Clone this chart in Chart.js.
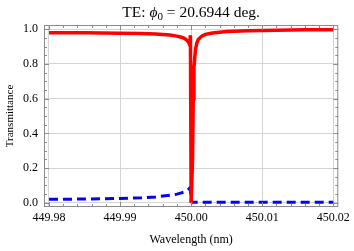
<!DOCTYPE html>
<html>
<head>
<meta charset="utf-8">
<script src="https://cdn.jsdelivr.net/npm/chart.js@4.4.0/dist/chart.umd.min.js"></script>
<style>
  html, body { margin: 0; padding: 0; background: #fff; }
  #wrap { width: 354px; height: 251px; }
</style>
</head>
<body>
<div id="wrap"><canvas id="chart" width="354" height="251"></canvas></div>
<script>
// data
const wavelength = [
    449.98, 449.985, 449.99, 449.993, 449.995, 449.997, 449.998, 449.9985,
    449.999, 449.9993, 449.9995, 449.9997, 449.9998, 449.9999, 450.0,
    450.0001, 450.0002, 450.0003, 450.0004, 450.0006, 450.0008, 450.001,
    450.0015, 450.002, 450.003, 450.005, 450.008, 450.012, 450.016, 450.02
];
const transTE = [
    0.980, 0.979, 0.977, 0.975, 0.972, 0.966, 0.960, 0.955,
    0.948, 0.940, 0.932, 0.920, 0.910, 0.965, 0.0,
    0.0, 0.25, 0.60, 0.78, 0.88, 0.92, 0.94,
    0.96, 0.97, 0.978, 0.986, 0.991, 0.994, 0.996, 0.997
];
const reflTE = [
    0.020, 0.022, 0.025, 0.029, 0.034, 0.043, 0.050, 0.056,
    0.062, 0.068, 0.073, 0.080, 0.085, 0.070, 0.010,
    0.003, 0.003, 0.003, 0.003, 0.003, 0.003, 0.003,
    0.003, 0.003, 0.003, 0.003, 0.003, 0.003, 0.003, 0.003
];
const xTicks = [449.98, 449.99, 450.00, 450.01, 450.02];
const yTicks = [0.0, 0.2, 0.4, 0.6, 0.8, 1.0];

const serif = "'Liberation Serif', 'Times New Roman', serif";

// frame with inward ticks, title
const framePlugin = {
    id: 'frame',
    afterDraw(chart) {
        const ctx = chart.ctx;
        const a = chart.chartArea;
        const xs = chart.scales.x, ys = chart.scales.y;
        ctx.save();
        ctx.strokeStyle = '#8a8a8a';
        ctx.lineWidth = 1;
        ctx.strokeRect(a.left + 0.5, a.top + 0.5, a.right - a.left - 1, a.bottom - a.top - 1);
        ctx.beginPath();
        for (let i = 0; i <= 20; i++) {
            const v = 449.98 + i * 0.002;
            const px = Math.round(xs.getPixelForValue(v)) + 0.5;
            const len = i % 5 === 0 ? 5 : 3;
            ctx.moveTo(px, a.bottom); ctx.lineTo(px, a.bottom - len);
            ctx.moveTo(px, a.top); ctx.lineTo(px, a.top + len);
        }
        for (let i = 0; i <= 20; i++) {
            const v = i * 0.05;
            const py = Math.round(ys.getPixelForValue(v)) + 0.5;
            const len = i % 4 === 0 ? 5 : 3;
            ctx.moveTo(a.left, py); ctx.lineTo(a.left + len, py);
            ctx.moveTo(a.right, py); ctx.lineTo(a.right - len, py);
        }
        ctx.stroke();

        // title
        const parts = [
            ['TE: ', 'normal 15.5px ' + serif, 0],
            ['\u03D5', 'italic 15.5px ' + serif, 0],
            ['0', 'normal 11px ' + serif, 3],
            [' = 20.6944 deg.', 'normal 15.5px ' + serif, 0]
        ];
        let total = 0;
        parts.forEach(p => { ctx.font = p[1]; total += ctx.measureText(p[0]).width; });
        let x = (a.left + a.right) / 2 - total / 2;
        ctx.fillStyle = '#000';
        ctx.textBaseline = 'alphabetic';
        parts.forEach(p => {
            ctx.font = p[1];
            ctx.fillText(p[0], x, 17 + p[2]);
            x += ctx.measureText(p[0]).width;
        });
        ctx.restore();
    }
};

new Chart(document.getElementById('chart'), {
    type: 'line',
    data: {
        labels: wavelength,
        datasets: [{
            label: 'T',
            data: wavelength.map((w, i) => ({ x: w, y: transTE[i] })),
            borderColor: '#ff0000',
            borderWidth: 3.5,
            pointRadius: 0,
            tension: 0,
            fill: false
        }, {
            label: 'R',
            data: wavelength.map((w, i) => ({ x: w, y: reflTE[i] })),
            borderColor: '#0000ff',
            borderWidth: 3,
            borderDash: [9, 5],
            pointRadius: 0,
            tension: 0,
            fill: false
        }]
    },
    options: {
        responsive: false,
        animation: false,
        layout: { padding: { top: 25, right: 12, left: 0, bottom: 0 } },
        plugins: { legend: { display: false }, tooltip: { enabled: false } },
        scales: {
            x: {
                type: 'linear',
                min: 449.9793,
                max: 450.0207,
                afterFit: s => { s.height = 44; },
                afterBuildTicks: s => { s.ticks = xTicks.map(v => ({ value: v })); },
                ticks: {
                    color: '#000',
                    padding: 4,
                    maxRotation: 0,
                    font: { family: serif, size: 12 },
                    callback: v => v.toFixed(2)
                },
                grid: { color: '#d4d4d4', drawTicks: false },
                border: { display: false },
                title: {
                    display: true,
                    text: 'Wavelength (nm)',
                    color: '#000',
                    font: { family: serif, size: 12 },
                    padding: { top: 10 }
                }
            },
            y: {
                min: -0.024,
                max: 1.024,
                afterFit: s => { s.width = 44; },
                afterBuildTicks: s => { s.ticks = yTicks.map(v => ({ value: v })); },
                ticks: {
                    color: '#000',
                    padding: 6,
                    font: { family: serif, size: 12 },
                    callback: v => v.toFixed(1)
                },
                grid: { color: '#d4d4d4', drawTicks: false },
                border: { display: false },
                title: {
                    display: true,
                    text: 'Transmittance',
                    color: '#000',
                    font: { family: serif, size: 11 },
                    padding: { top: 4, bottom: 0 }
                }
            }
        }
    },
    plugins: [framePlugin]
});
</script>
</body>
</html>
